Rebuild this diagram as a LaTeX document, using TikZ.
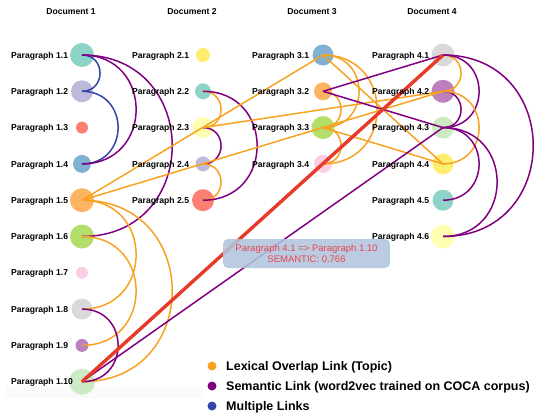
\documentclass[tikz,border=0pt]{standalone}
\usepackage{fontspec}
\setmainfont{Liberation Sans}
\usepackage{tikz}
\definecolor{cteal}{HTML}{8DD3C7}
\definecolor{cpale}{HTML}{FFFFB3}
\definecolor{clav}{HTML}{BEBADA}
\definecolor{csalmon}{HTML}{FB8072}
\definecolor{cblue}{HTML}{80B1D3}
\definecolor{corange}{HTML}{FDB462}
\definecolor{cgreen}{HTML}{B3DE69}
\definecolor{cpink}{HTML}{FCCDE5}
\definecolor{cgray}{HTML}{D9D9D9}
\definecolor{cplum}{HTML}{BC80BD}
\definecolor{cmint}{HTML}{CCEBC5}
\definecolor{cyellow}{HTML}{FFED6F}
\definecolor{lexlink}{RGB}{247,163,33}
\definecolor{semlink}{RGB}{128,0,128}
\definecolor{multilink}{RGB}{51,68,170}
\definecolor{picklink}{RGB}{232,58,40}
\definecolor{tiptext}{RGB}{232,70,75}
\definecolor{tipfill}{RGB}{176,196,222}

\begin{document}
\begin{tikzpicture}[
  x=1pt, y=-1pt,
  dot/.style={circle, inner sep=0pt, draw=none},
  para/.style={
    anchor=base west,
    yshift=-3.1pt,
    inner sep=0pt,
    font=\fontsize{8.6}{10}\selectfont\bfseries
  },
  doctitle/.style={anchor=base, yshift=-3.1pt, inner sep=0pt,
    font=\fontsize{8.6}{10}\selectfont\bfseries},
  lex/.style={draw=lexlink, line width=1.5pt},
  sem/.style={draw=semlink, line width=1.5pt},
  multi/.style={draw=multilink, line width=1.5pt},
  pick/.style={draw=picklink, line width=3.4pt},
  bow/.style={out=0, in=0, looseness=1.7},
  tip/.style={
    rounded corners=5pt,
    fill=tipfill,
    fill opacity=0.88,
    text opacity=1,
    text=tiptext,
    align=center,
    minimum width=167pt,
    minimum height=29pt,
    inner sep=0pt,
    font=\fontsize{9.5}{11}\selectfont
  },
  keydot/.style={circle, inner sep=0pt, minimum size=9pt},
  key/.style={anchor=base west, yshift=-4.5pt, inner sep=0pt,
    font=\fontsize{12.5}{14}\selectfont\bfseries}
]
\useasboundingbox (0,0) rectangle (535,415);
\fill[black!2] (5,385) rectangle (203,398);

% document titles
\node[doctitle] (d1) at (71,11) {Document 1};
\node[doctitle] (d2) at (192,11) {Document 2};
\node[doctitle] (d3) at (312,11) {Document 3};
\node[doctitle] (d4) at (432,11) {Document 4};

% paragraphs
\node[dot, minimum size=24pt, fill=cteal] (p11) at (82,55) {};
\node[dot, minimum size=22pt, fill=clav] (p12) at (82,91.3) {};
\node[dot, minimum size=12pt, fill=csalmon] (p13) at (82,127.6) {};
\node[dot, minimum size=18pt, fill=cblue] (p14) at (82,163.9) {};
\node[dot, minimum size=24pt, fill=corange] (p15) at (82,200.2) {};
\node[dot, minimum size=24pt, fill=cgreen] (p16) at (82,236.5) {};
\node[dot, minimum size=12pt, fill=cpink] (p17) at (82,272.8) {};
\node[dot, minimum size=21pt, fill=cgray] (p18) at (82,309.1) {};
\node[dot, minimum size=13pt, fill=cplum] (p19) at (82,345.4) {};
\node[dot, minimum size=26pt, fill=cmint] (p110) at (82,381.7) {};

\node[dot, minimum size=14pt, fill=cyellow] (p21) at (203,55) {};
\node[dot, minimum size=16pt, fill=cteal] (p22) at (203,91.3) {};
\node[dot, minimum size=21pt, fill=cpale] (p23) at (203,127.6) {};
\node[dot, minimum size=15pt, fill=clav] (p24) at (203,163.9) {};
\node[dot, minimum size=22pt, fill=csalmon] (p25) at (203,200.2) {};

\node[dot, minimum size=21pt, fill=cblue] (p31) at (323,55) {};
\node[dot, minimum size=18pt, fill=corange] (p32) at (323,91.3) {};
\node[dot, minimum size=23pt, fill=cgreen] (p33) at (323,127.6) {};
\node[dot, minimum size=18pt, fill=cpink] (p34) at (323,163.9) {};

\node[dot, minimum size=23pt, fill=cgray] (p41) at (443,55) {};
\node[dot, minimum size=23pt, fill=cplum] (p42) at (443,91.3) {};
\node[dot, minimum size=22pt, fill=cmint] (p43) at (443,127.6) {};
\node[dot, minimum size=21pt, fill=cyellow] (p44) at (443,163.9) {};
\node[dot, minimum size=21pt, fill=cteal] (p45) at (443,200.2) {};
\node[dot, minimum size=24pt, fill=cpale] (p46) at (443,236.5) {};

% links within a document
\draw[multi] (p11.center) to[bow] (p12.center);
\draw[multi] (p12.center) to[bow] (p14.center);
\draw[sem] (p11.center) to[bow] (p14.center);
\draw[sem] (p11.center) to[bow] (p16.center);
\draw[lex] (p15.center) to[bow] (p18.center);
\draw[lex] (p16.center) to[bow] (p19.center);
\draw[lex] (p15.center) to[bow] (p110.center);
\draw[sem] (p18.center) to[bow] (p110.center);
\draw[lex] (p22.center) to[bow] (p23.center);
\draw[sem] (p23.center) to[bow] (p24.center);
\draw[lex] (p24.center) to[bow] (p25.center);
\draw[sem] (p22.center) to[bow] (p25.center);
\draw[lex] (p31.center) to[bow] (p33.center);
\draw[lex] (p31.center) to[bow] (p34.center);
\draw[lex] (p32.center) to[bow] (p33.center);
\draw[lex] (p33.center) to[bow] (p34.center);
\draw[lex] (p41.center) to[bow] (p42.center);
\draw[sem] (p41.center) to[bow] (p43.center);
\draw[sem] (p41.center) to[bow] (p46.center);
\draw[sem] (p42.center) to[bow] (p43.center);
\draw[lex] (p42.center) to[bow] (p44.center);
\draw[sem] (p43.center) to[bow] (p45.center);
\draw[sem] (p43.center) to[bow] (p46.center);

% links across documents
\draw[lex] (p15.center) -- (p31.center);
\draw[lex] (p15.center) -- (p42.center);
\draw[lex] (p23.center) -- (p42.center);
\draw[lex] (p31.center) -- (p44.center);
\draw[lex] (p33.center) -- (p44.center);
\draw[sem] (p32.center) -- (p41.center);
\draw[sem] (p32.center) -- (p43.center);
\draw[sem] (p43.center) -- (p110.center);
\draw[pick] (p41.center) -- (p110.center);

% paragraph labels
\node[para] (l11) at (11,55) {Paragraph 1.1};
\node[para] (l12) at (11,91.3) {Paragraph 1.2};
\node[para] (l13) at (11,127.6) {Paragraph 1.3};
\node[para] (l14) at (11,163.9) {Paragraph 1.4};
\node[para] (l15) at (11,200.2) {Paragraph 1.5};
\node[para] (l16) at (11,236.5) {Paragraph 1.6};
\node[para] (l17) at (11,272.8) {Paragraph 1.7};
\node[para] (l18) at (11,309.1) {Paragraph 1.8};
\node[para] (l19) at (11,345.4) {Paragraph 1.9};
\node[para] (l110) at (11,381.7) {Paragraph 1.10};
\node[para] (l21) at (132,55) {Paragraph 2.1};
\node[para] (l22) at (132,91.3) {Paragraph 2.2};
\node[para] (l23) at (132,127.6) {Paragraph 2.3};
\node[para] (l24) at (132,163.9) {Paragraph 2.4};
\node[para] (l25) at (132,200.2) {Paragraph 2.5};
\node[para] (l31) at (252,55) {Paragraph 3.1};
\node[para] (l32) at (252,91.3) {Paragraph 3.2};
\node[para] (l33) at (252,127.6) {Paragraph 3.3};
\node[para] (l34) at (252,163.9) {Paragraph 3.4};
\node[para] (l41) at (372,55) {Paragraph 4.1};
\node[para] (l42) at (372,91.3) {Paragraph 4.2};
\node[para] (l43) at (372,127.6) {Paragraph 4.3};
\node[para] (l44) at (372,163.9) {Paragraph 4.4};
\node[para] (l45) at (372,200.2) {Paragraph 4.5};
\node[para] (l46) at (372,236.5) {Paragraph 4.6};

% tooltip
\node[tip] (tipbox) at (306.5,253.5)
  {Paragraph 4.1 => Paragraph 1.10\\SEMANTIC: 0.766};

% legend
\node[keydot, fill=lexlink] (k1) at (212,366) {};
\node[keydot, fill=semlink] (k2) at (212,386) {};
\node[keydot, fill=multilink] (k3) at (212,406) {};
\node[key] (k1t) at (226,366) {Lexical Overlap Link (Topic)};
\node[key] (k2t) at (226,386) {Semantic Link (word2vec trained on COCA corpus)};
\node[key] (k3t) at (226,406) {Multiple Links};
\end{tikzpicture}
\end{document}
